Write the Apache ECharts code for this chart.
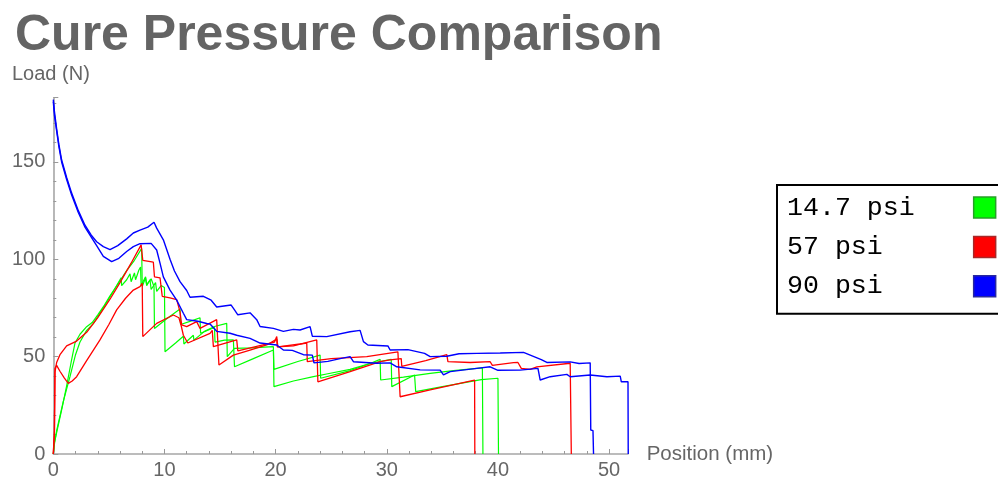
<!DOCTYPE html>
<html>
<head>
<meta charset="utf-8">
<script src="https://cdn.jsdelivr.net/npm/echarts@6/dist/echarts.min.js"></script>
<style>
html,body{margin:0;padding:0;background:#fff;}
#chart{width:998px;height:483px;}
</style>
</head>
<body>
<div id="chart"></div>
<script>
// Legend / series names
var seriesNames = ['14.7 psi', '57 psi', '90 psi'];
var seriesColors = ['#00ff00', '#ff0000', '#0000ff'];
var xTicks = [0, 10, 20, 30, 40, 50];
var yTicks = [0, 50, 100, 150];

// 14.7 psi, specimen 1: [Position (mm), Load (N)]
var green1 = [[0,0],[0.1,6],[0.3,11],[0.8,24],[1.2,35],[1.6,47],[1.95,57],[2.4,61.5],[3.0,65.4],[3.5,67.5],[4.0,71.5],[4.6,76.5],[5.1,81.2],[5.6,85.5],[6.15,90.2],[6.6,94.2],[7.3,99.5],[7.95,105.6],[8.0,86],[8.3,90.5],[8.4,86.5],[8.7,89.5],[8.8,84.5],[9.2,88],[9.3,83.5],[9.7,86.5],[10.0,85.5],[10.05,52.5],[11.0,57],[11.7,60.5],[11.75,56.5],[12.6,61],[12.65,58.5],[13.6,63],[14.5,65.5],[15.6,67.1],[15.65,50],[16.3,54.3],[17.8,54.5],[19.8,55.1],[19.85,34.6],[21.6,37.5],[23.4,39.7],[24.7,41.2],[26.7,43.5],[28.5,46.5],[29.4,48.6],[29.45,38],[31.5,39.5],[33.9,41.4],[36,42.8],[38.1,44],[38.6,44.2],[38.65,0]];
// 14.7 psi, specimen 2
var green2 = [[0,0],[0.1,5],[0.3,12],[0.9,27],[1.5,39.7],[2.0,51],[2.4,57.5],[3.0,63.5],[3.6,67],[4.5,75],[5.5,84.5],[6.1,90.5],[6.15,86.5],[6.6,89.5],[6.9,92.5],[7.0,88.5],[7.3,93],[7.4,89.5],[7.7,94.5],[7.85,96],[7.9,86.5],[8.3,91],[8.4,87],[8.8,90],[9.06,86],[9.1,64.5],[10.2,69.5],[11.4,74.5],[11.45,66.5],[12.5,68.5],[13.2,70],[13.25,62],[14.5,65],[14.55,57.5],[15.4,58.5],[16.2,58.6],[16.3,44.8],[18,49],[19.8,53.4],[19.85,43.5],[22,47.5],[24.0,50.8],[24.05,38.9],[26.7,42.8],[28.5,46.5],[30.4,48.6],[30.45,34.6],[32.5,40.6],[32.6,32],[35,34.6],[38.5,38.2],[40.0,38.9],[40.05,0]];
// 57 psi, specimen 1
var red1 = [[0,0],[0.1,12],[0.15,42],[0.3,47],[0.6,51],[1.2,55.5],[2.1,58],[3.0,62.5],[4.0,70],[5.1,79.5],[6.0,88],[7.0,98],[7.9,107.4],[8.05,99.5],[9.0,98.5],[9.1,91],[9.6,90.5],[9.8,81],[10.5,80.2],[11.1,79.3],[11.4,73],[11.55,66.3],[12.0,65.4],[12.9,68],[13.2,64.5],[14.7,69],[14.85,70],[14.9,45.7],[16.2,50.8],[17.7,53.4],[19.2,56],[20.1,59],[20.15,55],[21.6,55.5],[23.7,58.6],[23.8,37.1],[26.7,42.3],[29.4,47.4],[30.3,48.3],[31.3,49],[31.35,45],[33.5,48],[35.4,51],[35.5,47.4],[37.5,47],[39.3,47.4],[39.5,45.5],[41.4,46.9],[41.8,47],[42.1,44],[42.9,43.5],[43.5,44.8],[46.5,46.6],[46.6,0]];
// 57 psi, specimen 2
var red2 = [[0,0],[0.1,10],[0.15,44],[0.3,45.5],[0.6,42.5],[1.0,39],[1.35,36.3],[1.7,37.5],[2.1,39.7],[3.0,48],[4.2,58.6],[5.0,66.5],[5.7,74],[6.5,80],[7.2,84.2],[7.8,86],[8.0,87.7],[8.05,60.3],[9.3,67.1],[10.8,71.4],[11.3,70],[11.5,66],[11.7,61],[12.1,57],[14.1,62],[14.3,63.5],[14.4,55.1],[16.5,58.6],[16.6,53],[19.9,57.5],[20.1,60.3],[20.2,55],[22.2,56.5],[22.8,57],[22.85,47.4],[25,49],[28.2,50],[31.0,52.5],[31.2,29.4],[33.9,32.9],[37.9,38],[37.92,0]];
// 90 psi, specimen 1
var blue1 = [[0,182],[0.1,176],[0.3,167],[0.5,159],[0.75,151],[1.2,142],[1.65,134],[2.25,125],[2.85,117.5],[3.4,112.5],[3.9,109],[4.5,106.5],[5.1,105],[5.8,107],[6.6,110.5],[7.2,113.5],[7.8,115],[8.5,116.5],[9.06,119],[9.3,116],[9.9,110],[10.5,100],[10.9,94],[11.4,88.5],[12.0,84],[12.3,80.5],[13.5,81],[14.2,79],[14.7,75.5],[16.0,76.5],[16.3,74],[16.6,71.5],[17.7,72.5],[18.3,69],[18.6,65.5],[19.8,64.5],[20.7,63],[21.6,64],[22.2,63.7],[23.1,65.4],[23.3,60.5],[24.6,60.3],[26.7,62.8],[27.6,63.5],[27.9,57.7],[28.3,56],[30.1,55.5],[30.3,53.4],[31.9,53.6],[33.4,51.7],[33.9,50],[35.4,50.2],[36.5,51.5],[38.1,51.7],[40.2,51.9],[42.3,52.2],[43.9,48.5],[44.4,47],[46.5,47.3],[47.3,46.5],[48.3,46.8],[48.35,12.3],[48.55,12],[48.6,0]];
// 90 psi, specimen 2
var blue2 = [[0,181],[0.1,174],[0.3,166],[0.5,158],[0.75,150],[1.2,141],[1.65,133],[2.25,124],[2.85,116.5],[3.4,111.5],[3.9,107],[4.5,101.5],[5.25,98.8],[5.9,100.5],[6.6,104],[7.2,106.5],[7.8,108],[8.8,108.2],[9.3,104.8],[9.6,98],[9.9,91],[10.5,84.2],[11.1,79],[11.7,72.3],[12.0,69],[13.0,68.2],[13.8,67],[14.1,66.8],[14.7,63],[15.9,62],[16.5,61],[17.7,59.4],[18.6,57],[20.1,56],[20.7,53.4],[21.5,53.2],[22.5,51],[23.3,50.8],[23.45,46.8],[24.7,47.6],[25.8,49],[26.7,50],[27.0,47.4],[29.1,46.6],[30.3,46.8],[30.9,44.8],[33.0,43.2],[34.8,43.1],[35.1,40.6],[35.7,42.3],[38.1,44],[39.3,44.8],[40,43],[42.0,43.1],[43.6,44],[43.8,38],[44.7,39.7],[46.2,40.9],[46.5,39.7],[48.3,40.6],[49.8,39.7],[51.0,40],[51.1,37.1],[51.7,37.1],[51.72,0]];

var chart = echarts.init(document.getElementById('chart'), null, {renderer: 'canvas'});

function lineSeries(name, color, data, width) {
  return {
    name: name, type: 'line', data: data,
    showSymbol: false, symbol: 'none', animation: false,
    lineStyle: {color: color, width: width},
    itemStyle: {color: color}
  };
}

var labelFont = 'Liberation Sans';
var option = {
  animation: false,
  backgroundColor: '#ffffff',
  title: [
    {text: 'Cure Pressure Comparison', left: 15, top: 11, padding: 0,
     textStyle: {fontFamily: labelFont, fontSize: 50, fontWeight: 'bold', color: '#646464'}},
    {text: 'Load (N)', left: 12, top: 64, padding: 0,
     textStyle: {fontFamily: labelFont, fontSize: 20, fontWeight: 'normal', color: '#666666'}}
  ],
  legend: {
    orient: 'vertical', left: 777, top: 185, align: 'right',
    icon: 'rect', itemWidth: 22, itemHeight: 21, itemGap: 12.4,
    padding: [9, 12, 14, 10],
    borderColor: '#000', borderWidth: 2, backgroundColor: '#fff',
    selectedMode: false,
    formatter: function (n) { return n.padEnd(8, ' '); },
    textStyle: {fontFamily: 'Liberation Mono', fontSize: 26.6, color: '#000', padding: [0, 54, 0, 0]},
    data: [
      {name: seriesNames[0], itemStyle: {color: seriesColors[0], borderColor: '#27a027', borderWidth: 1.5}},
      {name: seriesNames[1], itemStyle: {color: seriesColors[1], borderColor: '#a82828', borderWidth: 1.5}},
      {name: seriesNames[2], itemStyle: {color: seriesColors[2], borderColor: '#2828a0', borderWidth: 1.5}}
    ]
  },
  grid: {left: 53.3, right: 370, top: 97.7, bottom: 29, containLabel: false},
  xAxis: {
    type: 'value', min: 0, max: 51.7, interval: 10,
    name: 'Position (mm)', nameLocation: 'end', nameGap: 18.7,
    nameTextStyle: {fontFamily: labelFont, fontSize: 20.5, color: '#666', verticalAlign: 'middle', align: 'left'},
    axisLine: {show: true, onZero: false, lineStyle: {color: '#a6a6a6', width: 1.6}},
    axisTick: {show: true, inside: true, length: 5, lineStyle: {color: '#999', width: 1}},
    minorTick: {show: true, splitNumber: 5, length: 3, lineStyle: {color: '#999', width: 1}},
    splitLine: {show: false},
    axisLabel: {fontFamily: labelFont, fontSize: 20, color: '#666', margin: 6,
      formatter: function (v) { return xTicks.indexOf(v) >= 0 ? String(v) : ''; }}
  },
  yAxis: {
    type: 'value', min: 0, max: 183, interval: 50,
    axisLine: {show: true, onZero: false, lineStyle: {color: '#a6a6a6', width: 1.6}},
    axisTick: {show: true, inside: true, length: 5, lineStyle: {color: '#999', width: 1}},
    minorTick: {show: true, splitNumber: 5, length: 3, lineStyle: {color: '#999', width: 1}},
    splitLine: {show: false},
    axisLabel: {fontFamily: labelFont, fontSize: 20, color: '#666', margin: 8,
      formatter: function (v) { return yTicks.indexOf(v) >= 0 ? String(v) : ''; }}
  },
  series: [
    lineSeries(seriesNames[0], seriesColors[0], green1, 1.2),
    lineSeries(seriesNames[0], seriesColors[0], green2, 1.2),
    lineSeries(seriesNames[1], seriesColors[1], red1, 1.3),
    lineSeries(seriesNames[1], seriesColors[1], red2, 1.3),
    lineSeries(seriesNames[2], seriesColors[2], blue1, 1.4),
    lineSeries(seriesNames[2], seriesColors[2], blue2, 1.4)
  ]
};
chart.setOption(option);
</script>
</body>
</html>
